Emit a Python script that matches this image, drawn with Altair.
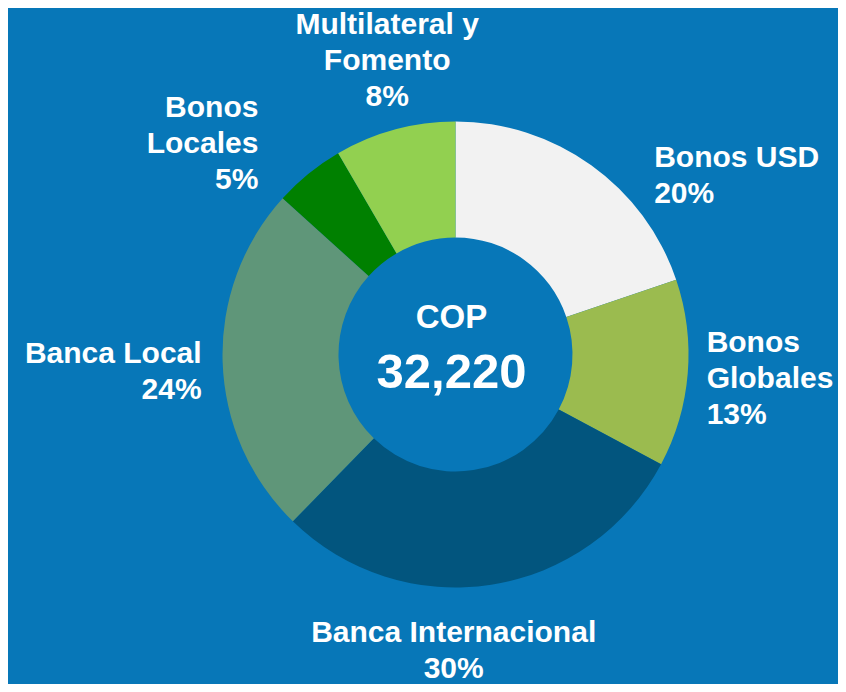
import altair as alt

# ---- data ----
categories = ["Bonos USD", "Bonos Globales", "Banca Internacional",
              "Banca Local", "Bonos Locales", "Multilateral y Fomento"]
shares = [19.8, 13.0, 29.5, 24.4, 4.9, 8.4]
label_lines = ["Bonos USD", "Bonos\nGlobales", "Banca Internacional",
               "Banca Local", "Bonos\nLocales", "Multilateral y\nFomento"]
colors = ["#f2f2f2", "#9bbb4f", "#02557e", "#5f9679", "#008000", "#92d050"]
center_title = "COP"
center_total = "32,220"

records = [{"category": c, "share": s, "label": l, "order": i}
           for i, (c, s, l) in enumerate(zip(categories, shares, label_lines))]

# ---- style ----
BG = "#0777b8"
FONT = "Liberation Sans"
LABEL_SIZE = 30
LINE_H = 36
LABEL_R = 262
label_style = {
    "Bonos USD": dict(align="left", dx=46, dy=25),
    "Bonos Globales": dict(align="left", dx=-10, dy=-24),
    "Banca Internacional": dict(align="center", dx=-42, dy=29),
    "Banca Local": dict(align="right", dx=8, dy=0),
    "Bonos Locales": dict(align="right", dx=-32, dy=-34),
    "Multilateral y Fomento": dict(align="center", dx=0, dy=-68),
}

base = alt.Chart(alt.Data(values=records)).transform_window(
    cum="sum(share)", sort=[alt.SortField("order")], frame=[None, 0]
).transform_calculate(
    start="datum.cum - datum.share",
    mid="datum.cum - datum.share / 2",
    txt="datum.label + '\\n' + format(datum.share, '.0f') + '%'",
)

theta_scale = alt.Scale(domain=[0, 100])

arcs = base.mark_arc(innerRadius=117, outerRadius=233).encode(
    theta=alt.Theta("start:Q", scale=theta_scale),
    theta2=alt.Theta2("cum:Q"),
    color=alt.Color("category:N",
                    scale=alt.Scale(domain=categories, range=colors),
                    legend=None),
)

layers = [arcs]
for cat in categories:
    st = label_style[cat]
    layers.append(
        base.transform_filter(alt.datum.category == cat).mark_text(
            radius=LABEL_R, font=FONT, fontSize=LABEL_SIZE, fontWeight="bold",
            color="white", lineBreak="\n", lineHeight=LINE_H,
            align=st["align"], baseline="alphabetic", dx=st["dx"], dy=st["dy"],
        ).encode(
            theta=alt.Theta("mid:Q", scale=theta_scale, stack=None),
            text="txt:N",
        )
    )

cop = alt.Chart(alt.Data(values=[{"t": center_title}])).mark_text(
    font=FONT, fontSize=33, fontWeight="bold", color="white",
    align="center", baseline="alphabetic", dx=-4, dy=-26.5,
).encode(
    x=alt.value({"expr": "width/2"}), y=alt.value({"expr": "height/2"}), text="t:N"
)
total = alt.Chart(alt.Data(values=[{"t": center_total}])).mark_text(
    font=FONT, fontSize=49, fontWeight="bold", color="white",
    align="center", baseline="alphabetic", dx=-4, dy=33.5,
).encode(
    x=alt.value({"expr": "width/2"}), y=alt.value({"expr": "height/2"}), text="t:N"
)
layers += [cop, total]

chart = alt.layer(*layers).properties(
    width=765, height=659,
    padding={"left": 65, "top": 17, "right": 0, "bottom": 0},
    autosize=alt.AutoSizeParams(type="none"),
).configure(background=BG).configure_view(strokeWidth=0)

chart.save("out.html", embed_options={"renderer": "svg", "actions": False})
